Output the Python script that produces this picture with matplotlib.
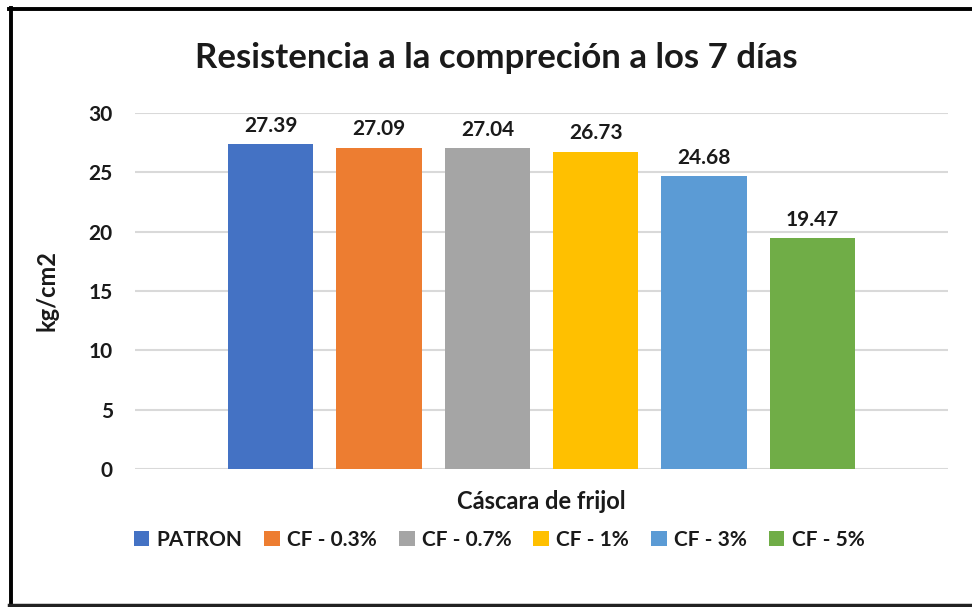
import matplotlib
matplotlib.use("Agg")
import matplotlib.pyplot as plt
from matplotlib.lines import Line2D
import numpy as np

plt.rcParams['font.family'] = ['Lato', 'DejaVu Sans']

categories = ["Cáscara de frijol"]
series_names = ["PATRON", "CF - 0.3%", "CF - 0.7%", "CF - 1%", "CF - 3%", "CF - 5%"]
series_values = [27.39, 27.09, 27.04, 26.73, 24.68, 19.47]
colors = ["#4472C4", "#ED7D31", "#A5A5A5", "#FFC000", "#5B9BD5", "#70AD47"]
yticks = [0, 5, 10, 15, 20, 25, 30]

W, H = 972, 607
fig = plt.figure(figsize=(W / 100, H / 100), dpi=100)
ax = fig.add_axes([135 / W, 1 - 469 / H, (948 - 135) / W, (469 - 113) / H])

step = 108.3 / 813 * 7.5  # spacing between bars in data units
n = len(series_names)
width = 0.787 * step
for j, (name, val, c) in enumerate(zip(series_names, series_values, colors)):
    x = 0 + (j - (n - 1) / 2) * step
    ax.bar([x], [val], width=width, color=c, label=name, zorder=3)
    ax.annotate(f"{val:.2f}", (x, val), xytext=(0, 6), textcoords="offset points",
                ha="center", va="bottom", fontsize=15, fontweight="bold", color="#1a1a1a")

half = 3.75
ax.set_xlim(-half, half)
ax.set_ylim(0, 30)
ax.set_yticks(yticks)
ax.set_yticklabels([str(t) for t in yticks], fontsize=15, fontweight="bold", color="#1a1a1a")
ax.tick_params(axis="y", length=0, pad=16)
ax.set_xticks([0])
ax.set_xticklabels(categories, fontsize=17, fontweight="bold", color="#1a1a1a")
ax.tick_params(axis="x", length=0, pad=15)
ax.grid(axis="y", color="#d9d9d9", linewidth=1.5, zorder=0)
for s in ax.spines.values():
    s.set_visible(False)

fig.text(496 / W, 1 - 58 / H, "Resistencia a la compreción a los 7 días",
         ha="center", va="center", fontsize=25, fontweight="bold", color="#1a1a1a")
fig.text(47 / W, 1 - 290 / H, "kg/cm2", rotation=90, ha="center", va="center",
         fontsize=17, fontweight="bold", color="#1a1a1a")

leg = fig.legend(loc="center", bbox_to_anchor=(499 / W, 1 - 540 / H), ncol=n, frameon=False,
                 prop={"size": 15, "weight": "bold"}, handlelength=0.75, handleheight=0.75,
                 handletextpad=0.35, columnspacing=1.05)
for t in leg.get_texts():
    t.set_color("#1a1a1a")

# frame around figure (left, top, bottom)
fig.add_artist(Line2D([10.5 / W, 10.5 / W], [1 - 8 / H, 1 - 605 / H], color="black", linewidth=2.8,
                      transform=fig.transFigure))
fig.add_artist(Line2D([9 / W, 1], [1 - 9 / H, 1 - 9 / H], color="black", linewidth=2.8,
                      transform=fig.transFigure))
fig.add_artist(Line2D([9 / W, 1], [1 - 604.5 / H, 1 - 604.5 / H], color="#222222", linewidth=2.5,
                      transform=fig.transFigure))

fig.savefig("out.png", dpi=100)
